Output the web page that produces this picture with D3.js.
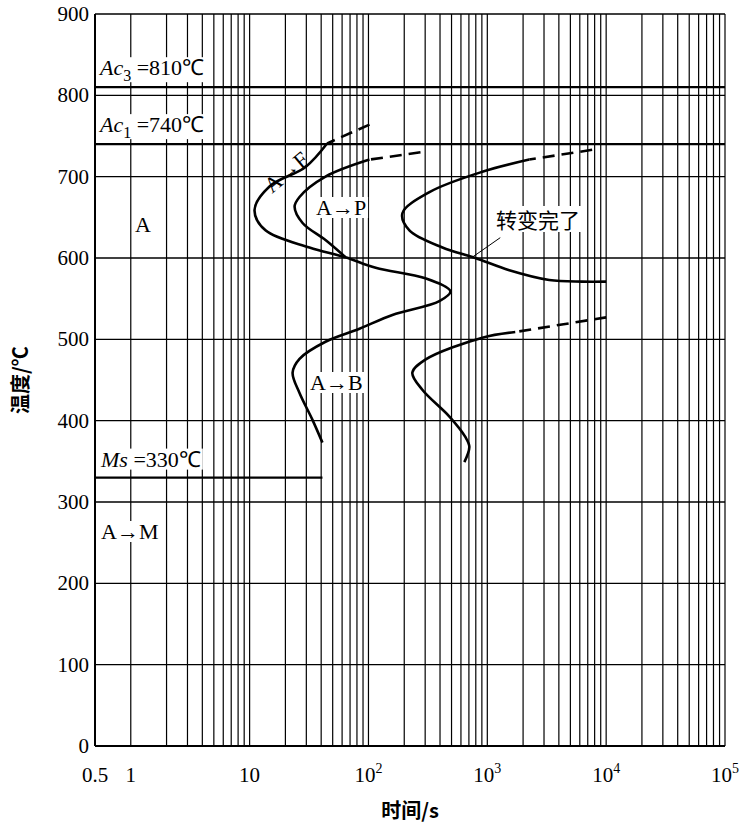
<!DOCTYPE html>
<html><head><meta charset="utf-8">
<script src="https://cdn.jsdelivr.net/npm/d3@7"></script>
<style>body{margin:0;background:#fff}</style></head>
<body><svg id="c" width="750" height="828"></svg>
<script>
const yTicks=[0,100,200,300,400,500,600,700,800,900];
const xTickLabels=[{v:0.5,t:"0.5"},{v:1,t:"1"},{v:10,t:"10"},{v:100,t:"10",e:"2"},{v:1000,t:"10",e:"3"},{v:10000,t:"10",e:"4"},{v:100000,t:"10",e:"5"}];
const critLines=[{T:810,label:"Ac",sub:"3",rest:" =810℃"},{T:740,label:"Ac",sub:"1",rest:" =740℃"}];
const msTemp=330, msEnd=41;
const ferriteDash=[[102,764],[45,741]];
const startCurve=[[45,741],[29.6,712],[14.7,688],[11.0,659],[13.6,634],[31.9,613],[64,601],[115,588],[301,575],[489,559],[395,547],[159,530],[84,513],[43.5,497],[26.3,476],[23,459],[26.3,434],[33.8,401],[41,373]];
const pearliteDash=[[274,730],[102,721]];
const pearliteStart=[[102,721],[43.5,700],[26.3,675],[23.9,663],[27.9,643],[43.5,622],[64,601]];
const finishDash=[[7620,733],[2254,721]];
const finishCurve=[[2254,721],[908,706],[326,681],[193,655],[221,634],[419,613],[793,600],[1531,585],[3319,573],[6281,571],[10000,571]];
const bainiteDash=[[10000,527],[1718,509]];
const bainiteFinish=[[1718,509],[908,502],[301,475],[234,459],[284,438],[480,405],[653,380],[706,368],[641,349]];
const leader=[[748,601],[1285,625]];

const svg=d3.select("#c");
const x=d3.scaleLog().domain([0.5,100000]).range([95,725]);
const y=d3.scaleLinear().domain([0,900]).range([746,14]);
const g=svg.append("g");
const vlines=[];
for(let k=0;k<5;k++)for(let m=1;m<=9;m++)vlines.push(m*Math.pow(10,k));
vlines.push(100000);
g.selectAll(".v").data(vlines).join("line").attr("x1",d=>x(d)).attr("x2",d=>x(d)).attr("y1",y(0)).attr("y2",y(900)).attr("stroke","#000").attr("stroke-width",1.2);
g.selectAll(".h").data(yTicks).join("line").attr("x1",x(0.5)).attr("x2",x(100000)).attr("y1",d=>y(d)).attr("y2",d=>y(d)).attr("stroke","#000").attr("stroke-width",1.4);
g.append("line").attr("x1",x(0.5)).attr("x2",x(0.5)).attr("y1",y(0)).attr("y2",y(900)).attr("stroke","#000").attr("stroke-width",2);
g.append("line").attr("x1",x(0.5)).attr("x2",x(100000)).attr("y1",y(0)).attr("y2",y(0)).attr("stroke","#000").attr("stroke-width",2);
critLines.forEach(c=>g.append("line").attr("x1",x(0.5)).attr("x2",x(100000)).attr("y1",y(c.T)).attr("y2",y(c.T)).attr("stroke","#000").attr("stroke-width",2.2));
g.append("line").attr("x1",x(0.5)).attr("x2",x(msEnd)).attr("y1",y(msTemp)).attr("y2",y(msTemp)).attr("stroke","#000").attr("stroke-width",2.2);
const serif="'Liberation Serif',serif";
g.selectAll(".yt").data(yTicks).join("text").attr("x",89).attr("y",d=>y(d)+7).attr("text-anchor","end").attr("font-family",serif).attr("font-size",21).text(d=>d);
xTickLabels.forEach(d=>{
  const t=g.append("text").attr("x",x(d.v)).attr("y",782).attr("text-anchor","middle").attr("font-family",serif).attr("font-size",21);
  t.append("tspan").text(d.t);
  if(d.e)t.append("tspan").attr("dy",-9).attr("font-size",14).text(d.e);
});
g.append("text").attr("x",410).attr("y",818).attr("text-anchor","middle").attr("font-family","'Noto Sans CJK SC'").attr("font-weight","bold").attr("font-size",20).text("时间/s");
g.append("text").attr("transform","translate(28,380) rotate(-90)").attr("text-anchor","middle").attr("font-family","'Noto Sans CJK SC'").attr("font-weight","bold").attr("font-size",20).text("温度/℃");
function label(tx,ty,build,opts={}){
  const grp=g.append("g").attr("transform",`translate(${tx},${ty})`+(opts.rot?` rotate(${opts.rot})`:""));
  const t=grp.append("text").attr("font-family",opts.cjk?"'Noto Sans CJK SC'":serif).attr("font-size",opts.size||22);
  build(t);
  if(opts.bg!==false){
    const b=t.node().getBBox();
    grp.insert("rect","text").attr("x",b.x-2).attr("y",b.y+2).attr("width",b.width+4).attr("height",b.height-4).attr("fill","#fff");
  }
}
critLines.forEach(c=>label(100,y(c.T)-12,t=>{t.append("tspan").attr("font-style","italic").text(c.label);t.append("tspan").attr("dy",6).attr("font-size",16).text(c.sub);t.append("tspan").attr("dy",-6).text(c.rest);}));
label(101,y(msTemp)-11,t=>{t.append("tspan").attr("font-style","italic").text("Ms");t.append("tspan").text(" =330℃");});
label(135,232,t=>t.text("A"));
label(272,194,t=>t.text("A→F"),{rot:-40,bg:false});
label(316,215,t=>t.text("A→P"));
label(310,390,t=>t.text("A→B"));
label(101,539,t=>t.text("A→M"));
label(496,228,t=>t.text("转变完了"),{cjk:true,size:21});
const line=d3.line().x(d=>x(d[0])).y(d=>y(d[1])).curve(d3.curveCatmullRom.alpha(0.5));
const draw=(data,dash)=>g.append("path").attr("d",line(data)).attr("fill","none").attr("stroke","#000").attr("stroke-width",2.6).attr("stroke-dasharray",dash?"12,7":null);
draw(ferriteDash,true);draw(startCurve);draw(pearliteDash,true);draw(pearliteStart);
draw(finishDash,true);draw(finishCurve);draw(bainiteDash,true);draw(bainiteFinish);
g.append("path").attr("d",d3.line().x(d=>x(d[0])).y(d=>y(d[1]))(leader)).attr("stroke","#000").attr("stroke-width",1);
</script></body></html>
